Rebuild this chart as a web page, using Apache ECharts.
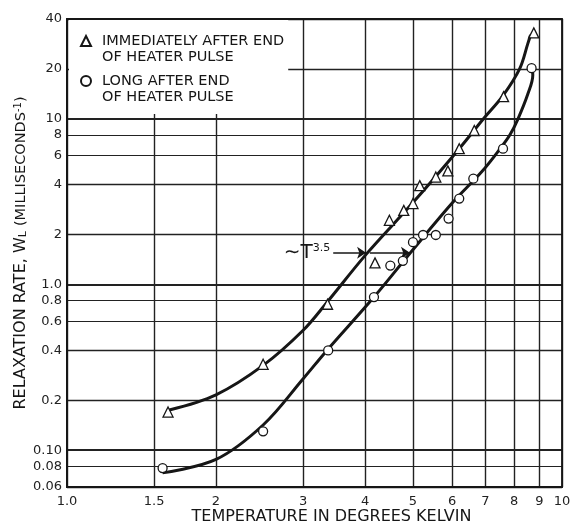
<!DOCTYPE html>
<html><head><meta charset="utf-8">
<script src="https://cdn.jsdelivr.net/npm/echarts@6/dist/echarts.min.js"></script>
<style>html,body{margin:0;padding:0;background:#fff}#c{width:572px;height:523px}</style>
</head><body><div id="c"></div>
<script>
// ---- data ----
const nameImmediate = 'IMMEDIATELY AFTER END\nOF HEATER PULSE';
const nameLong = 'LONG AFTER END\nOF HEATER PULSE';

const immediateT = [1.60, 2.49, 3.36, 4.19, 4.48, 4.79, 5.00, 5.16, 5.56, 5.88, 6.20, 6.65, 7.62, 8.77];
const immediateW = [0.17, 0.33, 0.76, 1.35, 2.44, 2.80, 3.08, 3.95, 4.45, 4.85, 6.60, 8.50, 13.6, 33];

const longT = [1.56, 2.49, 3.37, 4.17, 4.50, 4.77, 5.00, 5.24, 5.56, 5.90, 6.20, 6.62, 7.60, 8.68];
const longW = [0.078, 0.13, 0.40, 0.84, 1.30, 1.39, 1.80, 1.99, 1.99, 2.50, 3.30, 4.35, 6.60, 20.2];

const fitAT = [1.61, 2.0, 2.49, 3.0, 3.35, 4.02, 5.0, 6.2, 6.94, 7.6, 8.21, 8.53, 8.64];
const fitAW = [0.175, 0.216, 0.325, 0.53, 0.78, 1.52, 3.12, 6.6, 10, 13.8, 20, 28.4, 32];

const fitBT = [1.56, 2.0, 2.49, 3.0, 3.35, 4.17, 4.94, 6.0, 6.89, 7.5, 7.85, 8.15, 8.53, 8.73, 8.7];
const fitBW = [0.073, 0.088, 0.142, 0.27, 0.40, 0.84, 1.555, 3.1, 4.8, 6.6, 8.0, 10, 14.1, 18.4, 20.4];

const xTicks = [1, 1.5, 2, 3, 4, 5, 6, 7, 8, 9, 10];
const xTickLabels = ['1.0', '1.5', '2', '3', '4', '5', '6', '7', '8', '9', '10'];
const yTicks = [0.06, 0.08, 0.1, 0.2, 0.4, 0.6, 0.8, 1, 2, 4, 6, 8, 10, 20, 40];
const yTickLabels = ['0.06', '0.08', '0.10', '0.2', '0.4', '0.6', '0.8', '1.0', '2', '4', '6', '8', '10', '20', '40'];

// ~T^3.5 annotation arrows (level and x ranges)
const slopeLevel = 1.555;
const arrow1T = [3.45, 4.02];
const arrow2T = [4.09, 4.93];
const slopeText = '\u223CT{sup|3.5}';

// ---- chart ----
const FONT = 'DejaVu Sans';
const INK = '#161616';
const zip = (a, b) => a.map((v, i) => [v, b[i]]);
const decade = v => [0.1, 1, 10].includes(v);

const gridLines = [
  ...xTicks.map((v, i) => ({
    xAxis: v,
    label: { formatter: xTickLabels[i], position: 'start', distance: 8 },
    lineStyle: { width: 1.4 }
  })),
  ...yTicks.map((v, i) => ({
    yAxis: v,
    label: { formatter: yTickLabels[i], position: 'start', distance: 5 },
    lineStyle: { width: decade(v) ? 2.1 : ([0.08, 0.6, 0.8, 6, 8].includes(v) ? 1 : 1.4) }
  }))
];

const chart = echarts.init(document.getElementById('c'), null, { renderer: 'canvas' });
chart.setOption({
  animation: false,
  backgroundColor: '#fff',
  grid: {
    left: 67, right: 10, top: 19, bottom: 36, containLabel: false, outerBoundsMode: 'none',
    show: true, borderColor: INK, borderWidth: 1.8, z: 10
  },
  legend: {
    orient: 'vertical', left: 69, top: 17, padding: [0, 4, 9, 11],
    backgroundColor: '#fff', itemWidth: 10, itemHeight: 10, itemGap: -8,
    selectedMode: false, z: 4,
    formatter: name => '\n' + name,
    textStyle: { fontFamily: FONT, fontSize: 14.5, color: INK, lineHeight: 16, padding: [0, 0, 0, 6] },
    data: [nameImmediate, nameLong]
  },
  xAxis: {
    type: 'log', logBase: 10, min: 1, max: 10,
    axisLine: { show: true, lineStyle: { color: INK, width: 2 } },
    axisTick: { show: false }, axisLabel: { show: false }, splitLine: { show: false },
    minorTick: { show: false }, minorSplitLine: { show: false },
    name: 'TEMPERATURE IN DEGREES KELVIN', nameLocation: 'middle', nameGap: 22,
    nameTextStyle: { fontFamily: FONT, fontSize: 16, color: INK, padding: [0, 0, 0, 34] }
  },
  yAxis: {
    type: 'log', logBase: 10, min: 0.06, max: 40,
    axisLine: { show: true, lineStyle: { color: INK, width: 2 } },
    axisTick: { show: false }, axisLabel: { show: false }, splitLine: { show: false },
    minorTick: { show: false }, minorSplitLine: { show: false },
    name: 'RELAXATION RATE, W{sub|L} {p|(MILLISECONDS}{sup|-1}{p|)}',
    nameLocation: 'middle', nameGap: 38,
    nameTextStyle: {
      fontFamily: FONT, fontSize: 16, color: INK,
      rich: {
        sub: { fontFamily: FONT, fontSize: 11, color: INK, verticalAlign: 'bottom' },
        sup: { fontFamily: FONT, fontSize: 10, color: INK, verticalAlign: 'top' },
        p: { fontFamily: FONT, fontSize: 14.5, color: INK }
      }
    }
  },
  series: [
    {
      name: 'fitA', type: 'line', data: zip(fitAT, fitAW), smooth: 0.35, showSymbol: false,
      lineStyle: { color: INK, width: 3 }, silent: true, z: 3,
      markLine: {
        silent: true, symbol: 'none', animation: false, z: 1,
        lineStyle: { color: '#222', type: 'solid', width: 1.4 },
        label: { show: true, fontFamily: FONT, fontSize: 13, color: '#222' },
        emphasis: { disabled: true },
        data: gridLines
      }
    },
    {
      name: 'fitB', type: 'line', data: zip(fitBT, fitBW), smooth: 0.35, showSymbol: false,
      lineStyle: { color: INK, width: 3 }, silent: true, z: 3,
      markLine: {
        silent: true, symbol: ['none', 'arrow'], symbolSize: 9, animation: false,
        lineStyle: { color: INK, type: 'solid', width: 1.5 },
        label: { show: false },
        emphasis: { disabled: true },
        data: [
          [{ coord: [arrow1T[0], slopeLevel], label: {
              show: true, position: 'start', distance: 3, formatter: slopeText,
              fontFamily: FONT, fontSize: 20, color: INK,
              rich: { sup: { fontFamily: FONT, fontSize: 11, color: INK, verticalAlign: 'top' } }
            } },
           { coord: [arrow1T[1], slopeLevel] }],
          [{ coord: [arrow2T[0], slopeLevel] }, { coord: [arrow2T[1], slopeLevel] }]
        ]
      }
    },
    {
      name: nameImmediate, type: 'scatter', data: zip(immediateT, immediateW),
      symbol: 'triangle', symbolSize: 10, z: 5,
      itemStyle: { color: '#fff', borderColor: INK, borderWidth: 1.3, opacity: 1 }
    },
    {
      name: nameLong, type: 'scatter', data: zip(longT, longW),
      symbol: 'circle', symbolSize: 9, z: 5,
      itemStyle: { color: '#fff', borderColor: INK, borderWidth: 1.3, opacity: 1 }
    }
  ]
});
</script>
</body></html>
